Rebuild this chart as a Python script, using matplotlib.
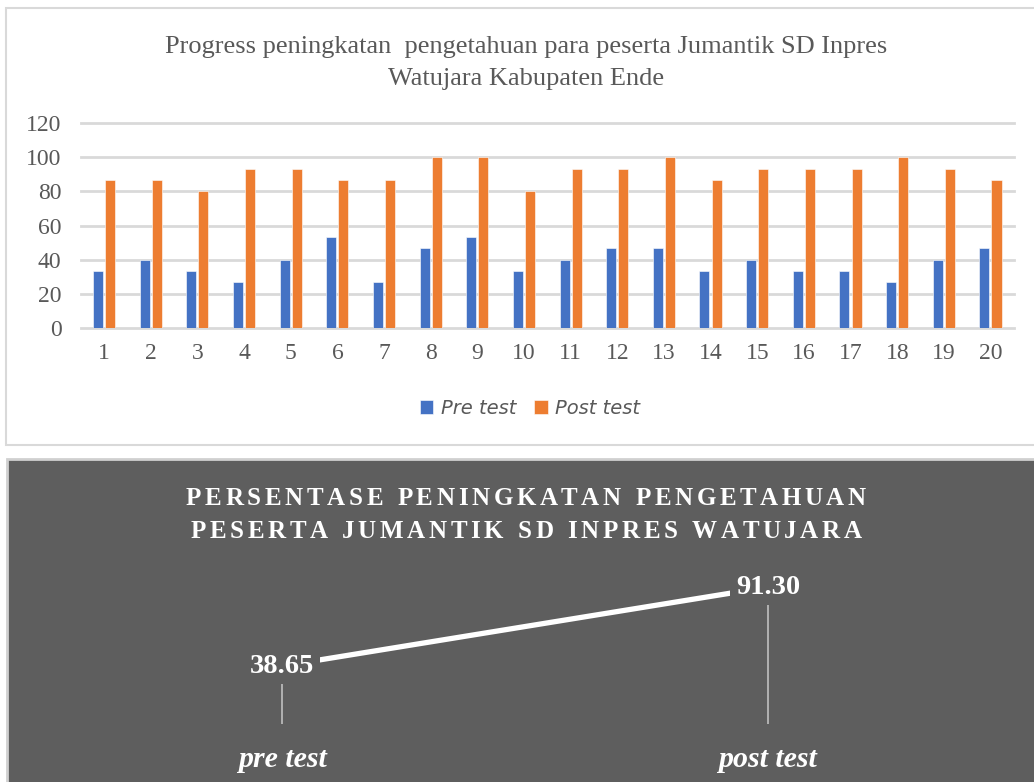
import matplotlib
matplotlib.use("Agg")
import matplotlib.pyplot as plt
from matplotlib.patches import Rectangle
import numpy as np

# ── data ─────────────────────────────────────────────
participants = [str(i) for i in range(1, 21)]
pre_test = [33.33, 40, 33.33, 26.67, 40, 53.33, 26.67, 46.67, 53.33, 33.33,
            40, 46.67, 46.67, 33.33, 40, 33.33, 33.33, 26.67, 40, 46.67]
post_test = [86.67, 86.67, 80, 93.33, 93.33, 86.67, 86.67, 100, 100, 80,
             93.33, 93.33, 100, 86.67, 93.33, 93.33, 93.33, 100, 93.33, 86.67]
y_ticks = [0, 20, 40, 60, 80, 100, 120]

avg_labels = ["pre test", "post test"]
avg_values = [38.65, 91.30]

# ── style ────────────────────────────────────────────
W, H = 1034, 782
BLUE = "#4472C4"
ORANGE = "#ED7D31"
GRID = "#d9d9d9"
TXT = "#595959"
DARK = "#5e5e5e"
SERIF = "Liberation Serif"

fig = plt.figure(figsize=(W / 100, H / 100), dpi=100)
fig.patch.set_facecolor("white")


def fx(px):
    return px / W


def fy(py):
    return 1 - py / H


# panel backgrounds
fig.patches.append(Rectangle((fx(6), fy(445)), fx(W + 10 - 6), (445 - 8) / H,
                             transform=fig.transFigure, facecolor="white",
                             edgecolor=GRID, linewidth=1.5, zorder=-10))
fig.patches.append(Rectangle((fx(7), fy(H + 10)), fx(W + 10 - 7), (H + 10 - 459) / H,
                             transform=fig.transFigure, facecolor=DARK,
                             edgecolor="#d0d0d0", linewidth=2, zorder=-10))

# ── top: bar chart ───────────────────────────────────
ax = fig.add_axes([fx(81), fy(328), fx(1014 - 81), (328 - 123) / H])
ax.set_facecolor("none")
x = np.arange(len(participants))
ax.bar(x - 0.135, pre_test, width=0.215, color=BLUE, edgecolor="white",
       linewidth=0.4, label="Pre test", zorder=3)
ax.bar(x + 0.125, post_test, width=0.215, color=ORANGE, edgecolor="white",
       linewidth=0.4, label="Post test", zorder=3)
ax.set_xlim(-0.5, len(participants) - 0.5)
ax.set_ylim(0, 120)
ax.set_yticks(y_ticks)
ax.set_yticklabels([str(v) for v in y_ticks], fontfamily=SERIF, fontsize=17, color=TXT)
ax.set_xticks(x)
ax.set_xticklabels(participants, fontfamily=SERIF, fontsize=17, color=TXT)
ax.tick_params(axis="both", length=0)
ax.tick_params(axis="x", pad=11)
ax.tick_params(axis="y", pad=14)
for s in ax.spines.values():
    s.set_visible(False)
ax.grid(axis="y", color=GRID, linewidth=2, zorder=0)
for gl in ax.get_ygridlines():
    gl.set_clip_on(False)

fig.text(fx(526), fy(53), "Progress peningkatan  pengetahuan para peserta Jumantik SD Inpres",
         ha="center", va="baseline", fontfamily=SERIF, fontsize=19, color=TXT)
fig.text(fx(526), fy(85), "Watujara Kabupaten Ende",
         ha="center", va="baseline", fontfamily=SERIF, fontsize=19, color=TXT)

ax.legend(loc="center", bbox_to_anchor=(fx(530), fy(408)),
          bbox_transform=fig.transFigure, ncol=2, frameon=False,
          handlelength=0.7, handleheight=0.7, handletextpad=0.4,
          columnspacing=0.9,
          prop={"family": "DejaVu Sans", "style": "italic", "size": 14},
          labelcolor=TXT)

# ── bottom: average line chart ───────────────────────
ax2 = fig.add_axes([fx(39), fy(724), fx(1011 - 39), 150 / H])
ax2.set_facecolor("none")
xp = np.arange(len(avg_labels))
ax2.vlines(xp, 0, avg_values, color="#c0c0c0", linewidth=1.2, zorder=1)
ax2.plot(xp, avg_values, color="white", linewidth=3.8, solid_capstyle="butt", zorder=2)
for xi, v in zip(xp, avg_values):
    ax2.text(xi, v, f"{v:.2f}", ha="center", va="center", fontfamily=SERIF,
             fontweight="bold", fontsize=20.5, color="white", zorder=4,
             bbox=dict(boxstyle="square,pad=0.2", facecolor=DARK, edgecolor="none"))
ax2.set_xlim(-0.5, 1.5)
ax2.set_ylim(0, 100)
ax2.set_yticks([])
ax2.set_xticks(xp)
ax2.set_xticklabels(avg_labels, fontfamily=SERIF, fontweight="bold",
                    style="italic", fontsize=21.5, color="white")
ax2.tick_params(axis="x", length=0, pad=16)
for s in ax2.spines.values():
    s.set_visible(False)

# letter-spaced title
renderer = fig.canvas.get_renderer()
title_lines = ["PERSENTASE PENINGKATAN PENGETAHUAN",
               "PESERTA JUMANTIK SD INPRES WATUJARA"]
baselines = [505, 538]
props = dict(fontfamily=SERIF, fontweight="bold", fontsize=18, color="white")


def char_widths(s):
    out = []
    for ch in s:
        t = fig.text(0, 0, ch if ch != " " else "n", **props)
        w = t.get_window_extent(renderer).width
        if ch == " ":
            w *= 0.5
        t.remove()
        out.append(w)
    return out


w1 = char_widths(title_lines[0])
track = (680 - sum(w1)) / (len(w1) - 1)
for line, base in zip(title_lines, baselines):
    ws = char_widths(line)
    total = sum(ws) + track * (len(ws) - 1)
    cx = 526 - total / 2
    for ch, w in zip(line, ws):
        if ch != " ":
            fig.text(fx(cx), fy(base), ch, ha="left", va="baseline", **props)
        cx += w + track

fig.savefig("out.png", dpi=100)
